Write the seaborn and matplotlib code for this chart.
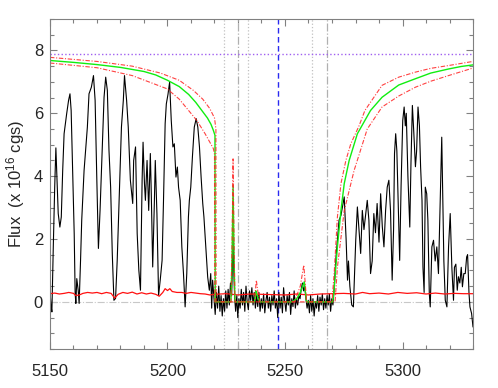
import numpy as np
import pandas as pd
import matplotlib
matplotlib.use('Agg')
import matplotlib.pyplot as plt
import seaborn as sns

obs_wl = [
    5150.0, 5150.4, 5150.8, 5151.4, 5152.0, 5152.5, 5153.1, 5153.5, 5154.2, 5154.8,
    5155.4, 5156.0, 5157.1, 5157.9, 5158.5, 5159.0, 5159.6, 5160.3, 5160.7, 5161.0,
    5161.4, 5162.0, 5162.4, 5163.0, 5163.5, 5164.5, 5165.9, 5166.6, 5167.6, 5168.5,
    5169.2, 5169.9, 5170.6, 5171.3, 5172.3, 5173.0, 5173.7, 5174.4, 5175.1, 5175.8,
    5176.5, 5177.2, 5177.9, 5178.6, 5179.6, 5180.4, 5181.2, 5181.7, 5182.6, 5183.3,
    5184.2, 5185.2, 5185.6, 5186.4, 5187.1, 5187.8, 5188.5, 5189.2, 5189.6, 5190.2,
    5190.6, 5191.3, 5192.0, 5192.7, 5193.1, 5193.7, 5194.4, 5194.8, 5195.5, 5196.2,
    5196.9, 5197.7, 5198.3, 5199.0, 5199.5, 5200.2, 5200.9, 5201.6, 5202.3, 5202.9,
    5203.6, 5204.2, 5204.7, 5205.4, 5206.1, 5206.8, 5207.5, 5208.2, 5208.9, 5209.3,
    5209.9, 5210.6, 5211.4, 5212.2, 5212.9, 5213.6, 5214.3, 5215.0, 5215.5, 5216.3,
    5217.1, 5217.8, 5218.4, 5218.8, 5219.2,
    5219.8, 5220.3, 5220.8, 5221.3, 5221.8, 5222.3, 5222.8, 5223.3, 5223.8, 5224.3,
    5224.8, 5225.3, 5225.8, 5226.3, 5226.8, 5227.3, 5227.6, 5227.9, 5228.2, 5228.6,
    5229.0, 5229.5, 5229.9, 5230.4, 5230.9, 5231.4, 5231.9, 5232.4, 5232.9, 5233.4,
    5233.9, 5234.4, 5234.9, 5235.4, 5235.9, 5236.4, 5236.9, 5237.4, 5237.9, 5238.4,
    5238.9, 5239.4, 5239.9, 5240.4, 5240.9, 5241.4, 5241.9, 5242.4, 5242.9, 5243.4,
    5243.9, 5244.4, 5244.9, 5245.4, 5245.9, 5246.4, 5246.9, 5247.4, 5247.9, 5248.4,
    5248.9, 5249.4, 5249.9, 5250.4, 5250.9, 5251.4, 5251.9, 5252.4, 5252.9, 5253.4,
    5253.9, 5254.4, 5254.9, 5255.4, 5255.9, 5256.4, 5256.9, 5257.4, 5257.9, 5258.4,
    5258.9, 5259.4, 5259.9, 5260.4, 5260.9, 5261.4, 5261.9, 5262.4, 5262.9, 5263.4,
    5263.9, 5264.4, 5264.9, 5265.4, 5265.9, 5266.4, 5266.9, 5267.4, 5267.9, 5268.4,
    5268.9, 5269.4, 5269.9, 5270.4, 5270.9,
    5271.6, 5272.3, 5273.0, 5273.8, 5275.2, 5276.0, 5276.6, 5277.0, 5277.6, 5278.4,
    5279.1, 5280.1, 5280.8, 5281.5, 5282.2, 5282.9, 5283.6, 5285.0, 5285.7, 5286.4,
    5287.1, 5287.8, 5288.5, 5289.2, 5290.0, 5290.7, 5291.4, 5292.1, 5292.8, 5293.5,
    5294.2, 5294.9, 5295.6, 5296.2, 5296.6, 5297.1, 5297.6, 5298.1, 5298.8, 5299.4,
    5300.1, 5300.7, 5301.2, 5301.6, 5302.3, 5303.1, 5303.6, 5304.2, 5304.8, 5305.5,
    5306.0, 5306.6, 5307.2, 5307.7, 5308.3, 5308.7, 5309.2, 5309.7, 5310.3, 5310.8,
    5311.4, 5311.8, 5312.5, 5313.2, 5313.9, 5314.6, 5315.3, 5316.0, 5316.7, 5317.1,
    5317.6, 5318.2, 5318.9, 5319.6, 5320.3, 5321.0, 5321.7, 5322.1, 5322.7, 5323.3,
    5323.8, 5324.4, 5325.0, 5325.5, 5326.1, 5326.7, 5327.3, 5327.7, 5328.3, 5328.7,
    5329.4, 5330.0,
]
obs_flux = [
    0.37, -0.1, -0.32, 1.75, 3.65, 4.9, 3.65, 2.81, 2.38, 2.70,
    4.18, 5.35, 5.99, 6.41, 6.62, 6.09, 4.29, 2.17, 0.27, -0.05,
    0.74, 0.37, -0.05, 1.32, 2.6, 4.18, 5.56, 6.62, 6.83, 7.2,
    6.41, 3.97, 1.70, 2.91, 5.03, 6.51, 7.15, 6.73, 4.82, 3.65,
    1.54, 0.05, 0.11, 1.32, 3.65, 5.56, 6.41, 7.2, 6.41, 5.56,
    3.87, 3.13, 4.5, 4.93, 2.17, 1.01, 0.37, 3.87, 5.08, 3.76,
    3.23, 4.5, 2.91, 4.72, 3.44, 1.11, 3.13, 4.5, 2.81, 0.2,
    0.69, 1.32, 3.23, 5.67, 6.3, 6.6, 6.99, 5.77, 4.93, 5.03,
    3.97, 4.29, 3.65, 3.23, 1.75, 0.9, -0.16, 0.9, 2.7, 3.23,
    3.65, 4.61, 5.56, 5.83, 5.56, 4.93, 3.97, 3.13, 2.7, 1.75,
    0.79, 0.37, 0.9, -0.2, 0.69,
    0.1, -0.4, 0.3, -0.2, 0.5, -0.3, 0.2, -0.45, 0.1, -0.3,
    0.35, -0.2, 0.4, -0.1, 0.6, 0.2, 1.2, 2.05, 1.0, 0.1,
    -0.3, 0.2, -0.5, 0.1, -0.2, 0.4, -0.1, 0.3, -0.3, 0.5,
    0.0, -0.25, 0.35, 0.05, 0.45, -0.1, 0.3, -0.2, 0.2, -0.15,
    0.3, -0.3, 0.1, -0.2, 0.25, -0.35, 0.05, 0.3, -0.2, 0.15,
    -0.3, 0.2, -0.1, 0.35, -0.2, 0.1, -0.5, 0.3, -0.2, 0.15,
    -0.35, 0.45, 0.0, -0.3, 0.2, -0.1, 0.3, -0.4, 0.1, -0.15,
    0.35, -0.2, 0.1, -0.1, 0.2, 0.1, 0.4, 0.6, 0.35, 0.5,
    0.1, -0.2, 0.05, -0.35, 0.2, -0.3, 0.1, -0.45, 0.0, -0.2,
    0.2, -0.3, 0.15, -0.1, 0.25, -0.25, 0.1, -0.2, 0.2, -0.1,
    0.25, -0.3, 0.1, -0.1, 0.4,
    1.32, 1.96, 2.6, 2.75, 3.34, 2.0, 0.69, 1.3, 0.5, -0.1,
    -0.16, 1.96, 3.02, 2.3, 1.54, 2.91, 2.3, 3.23, 2.6, 0.9,
    1.3, 2.81, 2.2, 3.13, 1.9, 3.44, 2.4, 1.75, 2.9, 3.65,
    3.87, 2.9, 0.69, 2.3, 4.72, 5.35, 4.8, 3.3, 1.32, 3.7,
    5.77, 6.2, 5.6, 6.0, 4.0, 2.38, 4.4, 6.25, 5.4, 4.3,
    4.8, 6.2, 5.6, 4.3, 3.23, 1.11, 0.3, 3.65, 3.44, 2.6,
    0.27, -0.16, 1.75, 1.96, 1.3, 1.75, 0.9, 3.13, 5.24, 3.44,
    1.3, 0.05, -0.16, 1.75, 2.81, 1.1, 0.05, 1.1, 1.2, 0.37,
    0.8, 0.6, 1.1, 0.48, 0.9, 0.9, 1.43, 1.5, 0.27, -0.16,
    -0.37, -0.8,
]

# error spectrum
err_wl = [5150, 5152, 5154, 5156, 5158, 5160, 5161, 5162.5, 5164, 5166, 5168, 5170,
          5172, 5174, 5176, 5177.5, 5179, 5181, 5183, 5185, 5187, 5189, 5191, 5193,
          5195, 5196.5, 5198, 5199, 5200, 5201, 5202, 5204, 5206, 5208, 5210, 5212,
          5214, 5216, 5218, 5220, 5225, 5230, 5235, 5240, 5245, 5250, 5255, 5260,
          5265, 5270, 5275, 5280, 5283, 5286, 5290, 5294, 5298, 5302, 5306, 5310,
          5314, 5318, 5322, 5326, 5330]
err_flux = [0.26, 0.28, 0.25, 0.27, 0.3, 0.27, 0.2, 0.22, 0.27, 0.3, 0.28, 0.3,
            0.26, 0.3, 0.27, 0.12, 0.24, 0.3, 0.27, 0.31, 0.25, 0.29, 0.25, 0.28,
            0.24, 0.18, 0.3, 0.42, 0.36, 0.42, 0.33, 0.3, 0.3, 0.27, 0.3, 0.28,
            0.26, 0.25, 0.22, 0.24, 0.26, 0.22, 0.25, 0.24, 0.23, 0.22, 0.25, 0.22,
            0.25, 0.26, 0.27, 0.25, 0.3, 0.26, 0.28, 0.25, 0.3, 0.27, 0.29, 0.25,
            0.28, 0.25, 0.27, 0.26, 0.26]

# damped-wing model (best fit)
mod_wl = [5150, 5160, 5170, 5180, 5190, 5195, 5200, 5205, 5209, 5212, 5215, 5217,
          5218.5, 5219.5, 5220.2, 5220.3, 5227.0, 5227.5, 5227.9, 5228.3, 5228.7,
          5237.0, 5237.6, 5238.0, 5238.6, 5239.3, 5253.0, 5255.0, 5256.5, 5257.5,
          5258.2, 5258.7, 5259.2, 5270.3, 5270.8, 5271.5, 5272.3, 5273.8, 5275.2,
          5277.3, 5280.8, 5286.4, 5291.3, 5298.4, 5305.5, 5312, 5319.6, 5325, 5330]
mod_flux = [7.68, 7.62, 7.55, 7.46, 7.33, 7.22, 7.05, 6.85, 6.6, 6.35, 6.05, 5.85,
            5.65, 5.46, 5.3, 0.0, 0.0, 1.5, 3.7, 1.5, 0.0,
            0.0, 0.35, 0.25, 0.1, 0.0, 0.0, 0.1, 0.3, 0.5,
            0.64, 0.3, 0.0, 0.0, 0.3, 1.0, 1.75, 2.9, 3.76,
            4.5, 5.35, 6.09, 6.51, 6.9, 7.1, 7.28, 7.41, 7.49, 7.54]

# upper / lower bounds
hi_wl = [5150, 5170, 5185, 5197, 5205, 5211, 5215, 5218, 5220, 5220.6, 5220.7,
         5227.0, 5227.5, 5227.9, 5228.3, 5228.7, 5237.0, 5237.8, 5238.5, 5239.3,
         5254.0, 5256.5, 5258.0, 5258.6, 5259.2, 5270.0, 5271.0, 5272.3, 5273.8,
         5275.9, 5278.0, 5281.5, 5284.0, 5291.3, 5298.4, 5305.5, 5312, 5319.6, 5330]
hi_flux = [7.78, 7.65, 7.5, 7.28, 7.05, 6.73, 6.45, 6.15, 5.85, 5.5, 0.0,
           0.0, 2.0, 4.55, 2.0, 0.0, 0.0, 0.69, 0.3, 0.0,
           0.0, 0.5, 1.17, 0.6, 0.0, 0.0, 1.0, 2.7, 3.76,
           4.5, 5.03, 5.6, 6.09, 6.89, 7.15, 7.31, 7.43, 7.52, 7.65]
lo_wl = [5150, 5170, 5185, 5199.8, 5205, 5212.5, 5216, 5219.5, 5220.0, 5220.1,
         5271.3, 5272.3, 5275.2, 5279.4, 5285.0, 5291.3, 5298.4, 5305.5, 5312, 5319.6, 5330]
lo_flux = [7.6, 7.45, 7.2, 6.78, 6.45, 5.77, 5.35, 4.88, 4.7, 0.0,
           0.0, 1.1, 2.9, 4.18, 5.5, 6.2, 6.55, 6.83, 7.02, 7.2, 7.44]

marker_wl = [5224.0, 5230.0, 5234.4, 5261.5, 5267.8]
marker_style = [':', '-.', ':', ':', '-.']
center_wl = 5247.0
cont_level = 7.9

sns.set_style('ticks')
plt.rcParams['font.family'] = ['Liberation Sans', 'DejaVu Sans']
plt.rcParams['mathtext.default'] = 'regular'

fig = plt.figure(figsize=(4.98, 3.88), dpi=100)
ax = fig.add_axes([0.1004, 0.1005, 0.8494, 0.8505])

for wl, ls in zip(marker_wl, marker_style):
    ax.axvline(wl, color='#c0c0c0' if ls == ':' else '#b0b0b0', lw=0.9, ls=ls)
ax.axhline(0, color='#c8c8c8', lw=0.8, ls='-.')
ax.axhline(cont_level, color='#a060f0', lw=1.0, ls=':')
ax.axvline(center_wl, color='#2a2af0', lw=1.0, ls=(0, (4, 2.5)))

obs = pd.DataFrame({'wl': obs_wl, 'flux': obs_flux})
sns.lineplot(data=obs, x='wl', y='flux', ax=ax, color='black', lw=0.8,
             sort=False, estimator=None)
sns.lineplot(x=err_wl, y=err_flux, ax=ax, color='#ff1010', lw=0.9,
             sort=False, estimator=None)
sns.lineplot(x=mod_wl, y=mod_flux, ax=ax, color='#10ee10', lw=1.0,
             sort=False, estimator=None)
for wl, fl in [(hi_wl, hi_flux), (lo_wl, lo_flux)]:
    sns.lineplot(x=wl, y=fl, ax=ax, color='#ff2020', lw=0.8, alpha=0.85,
                 ls=(0, (4, 1.5, 1, 1.5)), sort=False, estimator=None)

ax.set_xlim(5150, 5330)
ax.set_ylim(-1.5, 9)
ax.set_xticks([5150, 5200, 5250, 5300])
ax.set_yticks([0, 2, 4, 6, 8])
ax.set_xticks(np.arange(5150, 5331, 10), minor=True)
ax.set_yticks(np.arange(-1.5, 9.01, 0.5), minor=True)
ax.tick_params(which='both', direction='in', top=True, right=True,
               color='#808080', labelsize=12, width=0.8)
ax.tick_params(which='major', length=5)
ax.tick_params(which='minor', length=3)
ax.tick_params(axis='x', pad=11)
ax.tick_params(axis='y', pad=5)
for sp in ax.spines.values():
    sp.set_color('#808080')
    sp.set_linewidth(0.8)
ax.set_xlabel('')
ax.set_ylabel('Flux  (x 10$^{16}$ cgs)', fontsize=12, labelpad=5)

fig.savefig('out.png', dpi=100)
